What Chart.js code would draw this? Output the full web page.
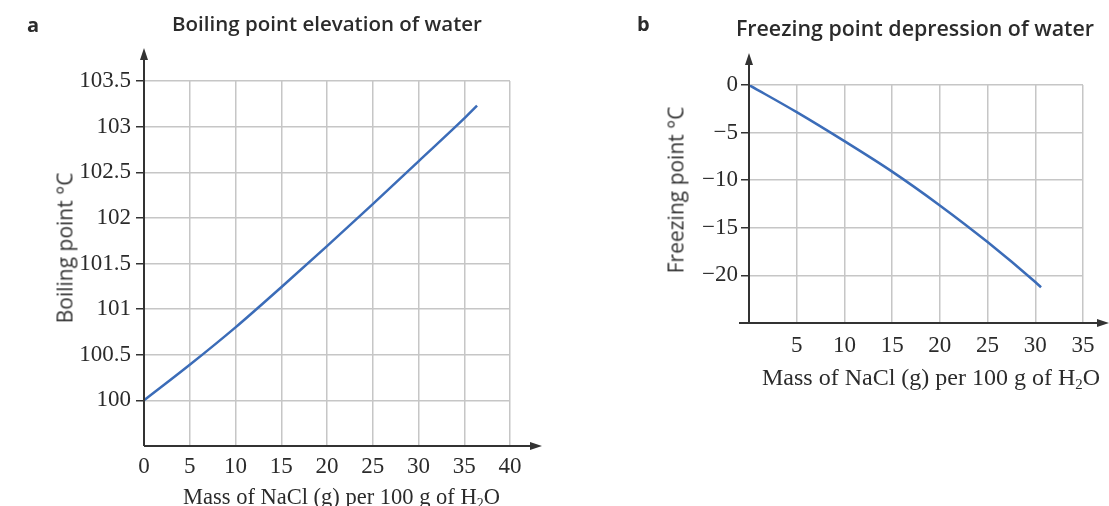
<!DOCTYPE html>
<html>
<head>
<meta charset="utf-8">
<script src="https://cdn.jsdelivr.net/npm/chart.js@4.4.0/dist/chart.umd.min.js"></script>
<style>
body { margin:0; background:#fff; width:1109px; height:506px; overflow:hidden; position:relative; }
.lbl { position:absolute; font-family:"Open Sans"; color:#2b2b2b; line-height:1; white-space:nowrap; z-index:2; }
.tag { font-size:20px; font-weight:700; }
.ttl { font-weight:600; transform:translateX(-50%); }
.ytl { font-size:21px; color:#333; transform:translate(-50%, -50%) rotate(-90deg); }
.xtl { font-family:"Liberation Serif"; }
.xtl sub { font-size:0.62em; line-height:0; vertical-align:-0.28em; }
#wrapA { position:absolute; left:0; top:0; width:560px; height:512px; }
#wrapB { position:absolute; left:620px; top:0; width:489px; height:400px; }
</style>
</head>
<body>
<div class="lbl tag" style="left:27px; top:15px;">a</div>
<div class="lbl ttl" style="left:327px; top:13px; font-size:20.5px;">Boiling point elevation of water</div>
<div class="lbl tag" style="left:637px; top:14px;">b</div>
<div class="lbl ttl" style="left:915px; top:17px; font-size:21.4px;">Freezing point depression of water</div>
<div class="lbl ytl" style="left:65px; top:248px;">Boiling point °C</div>
<div class="lbl ytl" style="left:676px; top:190px;">Freezing point °C</div>
<div class="lbl xtl" style="left:183px; top:486px; font-size:22.5px;">Mass of NaCl (g) per 100 g of H<sub>2</sub>O</div>
<div class="lbl xtl" style="left:762px; top:365px; font-size:24px;">Mass of NaCl (g) per 100 g of H<sub>2</sub>O</div>
<div id="wrapA"><canvas id="boilChart" width="560" height="512"></canvas></div>
<div id="wrapB"><canvas id="freezeChart" width="489" height="400"></canvas></div>
<script>
// boiling point curve (a)
const massA = [0, 5, 10, 15, 20, 25, 30, 35, 36.4];
const boiling = [100, 100.39, 100.80, 101.24, 101.69, 102.15, 102.62, 103.09, 103.23];
const xTicksA = [0, 5, 10, 15, 20, 25, 30, 35, 40];
const yTicksA = [100, 100.5, 101, 101.5, 102, 102.5, 103, 103.5];

// freezing point curve (b)
const massB = [0, 5, 10, 15, 20, 25, 30, 30.6];
const freezing = [0, -2.85, -5.9, -9.1, -12.65, -16.5, -20.7, -21.25];
const xTicksB = [5, 10, 15, 20, 25, 30, 35];
const yTicksB = [-20, -15, -10, -5, 0];

const axisCol = '#333';
const gridCol = '#c6c6c6';
const lineCol = '#3b6cb8';
const txtCol = '#2b2b2b';

// axis lines with arrow heads, drawn over the grid
const axisArrows = {
    id: 'axisArrows',
    afterDraw(chart, args, opts){
        const ctx = chart.ctx;
        const a = chart.chartArea;
        ctx.save();
        ctx.strokeStyle = axisCol;
        ctx.fillStyle = axisCol;
        ctx.lineWidth = 2;
        ctx.beginPath();
        ctx.moveTo(a.left - opts.xStart, a.bottom);
        ctx.lineTo(a.right + opts.xOver - 10, a.bottom);
        ctx.moveTo(a.left, a.bottom);
        ctx.lineTo(a.left, a.top - opts.yOver + 10);
        ctx.stroke();

        let tx = a.right + opts.xOver;
        ctx.beginPath();
        ctx.moveTo(tx, a.bottom);
        ctx.lineTo(tx - 12, a.bottom - 4);
        ctx.lineTo(tx - 12, a.bottom + 4);
        ctx.closePath();
        ctx.fill();

        let ty = a.top - opts.yOver;
        ctx.beginPath();
        ctx.moveTo(a.left, ty);
        ctx.lineTo(a.left - 4, ty + 12);
        ctx.lineTo(a.left + 4, ty + 12);
        ctx.closePath();
        ctx.fill();
        ctx.restore();
    }
};

function fixedTicks(list){
    return function(scale){
        scale.ticks = list.map(v => ({ value: v }));
    };
}

function minusLabel(v){
    return v < 0 ? '\u2212' + Math.abs(v) : String(v);
}

const tickFont = { family: 'Liberation Serif', size: 23 };

new Chart(document.getElementById('boilChart'), {
    type: 'line',
    data: {
        datasets: [{
            data: massA.map((m, i) => ({ x: m, y: boiling[i] })),
            borderColor: lineCol,
            borderWidth: 2.5,
            pointRadius: 0,
            cubicInterpolationMode: 'monotone',
            fill: false
        }]
    },
    plugins: [axisArrows],
    options: {
        responsive: false,
        animation: false,
        layout: { padding: { left: 0, top: 81, right: 50, bottom: 0 } },
        plugins: {
            legend: { display: false },
            tooltip: { enabled: false },
            axisArrows: { xStart: 0, xOver: 32, yOver: 33 }
        },
        scales: {
            x: {
                type: 'linear', min: 0, max: 40,
                afterBuildTicks: fixedTicks(xTicksA),
                afterFit: s => { s.height = 66; },
                border: { display: false },
                grid: { color: gridCol, lineWidth: 1.5, drawTicks: false },
                ticks: { font: tickFont, color: txtCol, padding: 7, maxRotation: 0, autoSkip: false }
            },
            y: {
                type: 'linear', min: 99.5, max: 103.5,
                afterBuildTicks: fixedTicks(yTicksA),
                afterFit: s => { s.width = 144; },
                border: { display: false },
                grid: { color: gridCol, lineWidth: 1.5, tickLength: 8, tickColor: axisCol, tickWidth: 1.5 },
                ticks: { font: tickFont, color: txtCol, padding: 5, autoSkip: false, callback: v => String(v) }
            }
        }
    }
});

new Chart(document.getElementById('freezeChart'), {
    type: 'line',
    data: {
        datasets: [{
            data: massB.map((m, i) => ({ x: m, y: freezing[i] })),
            borderColor: lineCol,
            borderWidth: 2.5,
            pointRadius: 0,
            cubicInterpolationMode: 'monotone',
            fill: false
        }]
    },
    plugins: [axisArrows],
    options: {
        responsive: false,
        animation: false,
        layout: { padding: { left: 0, top: 85, right: 26, bottom: 0 } },
        plugins: {
            legend: { display: false },
            tooltip: { enabled: false },
            axisArrows: { xStart: 10, xOver: 26, yOver: 32 }
        },
        scales: {
            x: {
                type: 'linear', min: 0, max: 35,
                afterBuildTicks: fixedTicks(xTicksB),
                afterFit: s => { s.height = 77; },
                border: { display: false },
                grid: { color: gridCol, lineWidth: 1.5, drawTicks: false },
                ticks: { font: tickFont, color: txtCol, padding: 9, maxRotation: 0, autoSkip: false }
            },
            y: {
                type: 'linear', min: -25, max: 0,
                afterBuildTicks: fixedTicks(yTicksB),
                afterFit: s => { s.width = 129; },
                border: { display: false },
                grid: { color: gridCol, lineWidth: 1.5, tickLength: 8, tickColor: axisCol, tickWidth: 1.5 },
                ticks: { font: tickFont, color: txtCol, padding: 3, autoSkip: false, callback: minusLabel }
            }
        }
    }
});
</script>
</body>
</html>
